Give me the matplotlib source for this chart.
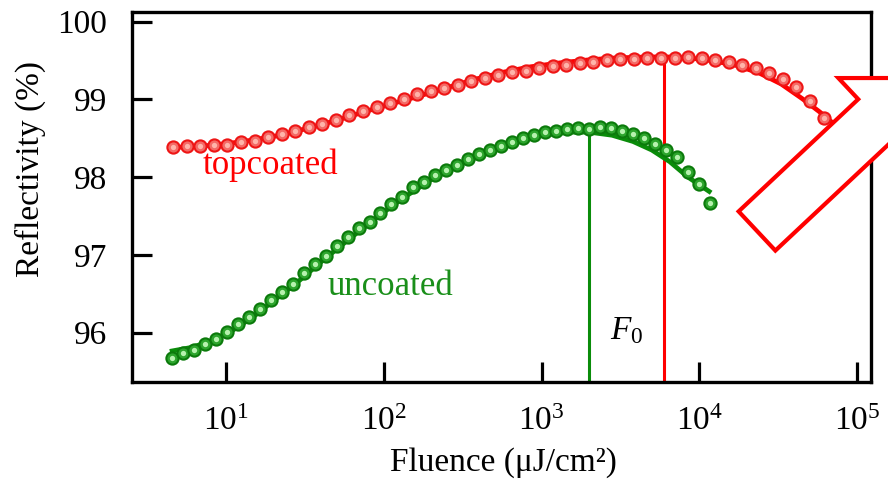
import numpy as np
import matplotlib
matplotlib.use("Agg")
import matplotlib.pyplot as plt
from matplotlib.patches import Polygon

plt.rcParams['font.family'] = ['Liberation Serif', 'DejaVu Serif']
plt.rcParams['mathtext.fontset'] = 'custom'
plt.rcParams['mathtext.rm'] = 'Liberation Serif'
plt.rcParams['mathtext.it'] = 'Liberation Serif:italic'

# ---- measured reflectivity (%) vs. fluence (uJ/cm^2) ----
topcoated_fluence = [4.63, 5.65, 6.88, 8.39, 10.2, 12.5, 15.2, 18.5, 22.5, 27.5,
                     33.5, 40.8, 49.8, 60.6, 73.9, 90.0, 110, 134, 163, 199,
                     242, 295, 359, 438, 533, 650, 792, 965, 1177, 1435,
                     1747, 2130, 2595, 3162, 3855, 4698, 5728, 6982, 8511, 10360,
                     12620, 15380, 18750, 22860, 27860, 33960, 41300, 50350, 61380]
topcoated_refl = [98.39, 98.40, 98.40, 98.41, 98.42, 98.45, 98.47, 98.52, 98.555, 98.60,
                  98.64, 98.68, 98.74, 98.795, 98.855, 98.905, 98.95, 99.01, 99.07, 99.11,
                  99.15, 99.185, 99.235, 99.28, 99.315, 99.35, 99.37, 99.40, 99.43, 99.445,
                  99.465, 99.48, 99.505, 99.515, 99.525, 99.53, 99.535, 99.53, 99.545, 99.535,
                  99.51, 99.48, 99.445, 99.40, 99.345, 99.265, 99.165, 98.98, 98.765]

uncoated_fluence = [4.53, 5.31, 6.24, 7.32, 8.60, 10.09, 11.85, 13.91, 16.33, 19.18,
                    22.51, 26.42, 31.01, 36.41, 42.76, 50.19, 58.92, 69.17, 81.21, 95.35,
                    111.9, 131.4, 154.2, 181.1, 212.6, 249.6, 293.0, 344.0, 403.9, 474.2,
                    556.7, 653.5, 767.2, 900.7, 1057, 1241, 1457, 1711, 2009, 2358,
                    2768, 3250, 3815, 4479, 5258, 6172, 7247, 8507, 9986, 11724]
uncoated_refl = [95.676, 95.740, 95.775, 95.861, 95.925, 96.010, 96.109, 96.203, 96.311, 96.418,
                 96.525, 96.633, 96.770, 96.878, 96.985, 97.117, 97.233, 97.341, 97.426, 97.534,
                 97.654, 97.748, 97.869, 97.941, 98.027, 98.091, 98.156, 98.229, 98.293, 98.349,
                 98.404, 98.456, 98.507, 98.542, 98.577, 98.593, 98.619, 98.628, 98.619, 98.649,
                 98.628, 98.593, 98.551, 98.507, 98.426, 98.349, 98.263, 98.069, 97.907, 97.671]

# ---- model curves ----
topcoated_fit_fluence = [4.4, 7, 10, 15, 22, 33, 50, 75, 110, 165, 250, 380, 570, 850,
                         1300, 2000, 3000, 4500, 6000, 8500, 12000, 17000, 24000,
                         33000, 45000, 58000, 70000, 82000]
topcoated_fit_refl = [98.38, 98.40, 98.43, 98.48, 98.54, 98.63, 98.73, 98.84, 98.94, 99.04,
                      99.15, 99.26, 99.35, 99.42, 99.47, 99.51, 99.535, 99.545, 99.548,
                      99.535, 99.50, 99.44, 99.34, 99.20, 99.01, 98.84, 98.70, 98.52]

uncoated_fit_fluence = [4.4, 6, 8, 11, 15, 20, 28, 40, 60, 90, 130, 200, 300, 450, 700,
                        1000, 1500, 2000, 2800, 3800, 5000, 6500, 8500, 11900]
uncoated_fit_refl = [95.76, 95.81, 95.89, 96.03, 96.21, 96.41, 96.64, 96.91, 97.20, 97.48,
                     97.72, 97.97, 98.17, 98.33, 98.46, 98.54, 98.58, 98.58, 98.54, 98.46,
                     98.35, 98.20, 98.00, 97.80]

# damage-threshold fluences F0 and the curve levels they reach
f0_fluence = {'uncoated': 2000, 'topcoated': 6000}
f0_level = {'uncoated': 98.58, 'topcoated': 99.548}

x_ticks = [10, 100, 1000, 10000, 100000]
y_ticks = [96, 97, 98, 99, 100]

RED = '#ff0000'
GREEN = '#0a8c0a'
FS = 24

W, H = 888, 483
fig = plt.figure(figsize=(W / 100, H / 100), dpi=100)
ax = fig.add_axes([132 / W, 1 - 381.7 / H, (871 - 132) / W, (381.7 - 12) / H])

ax.set_xscale('log')
ax.set_xlim(2.535, 1.227e5)
ax.set_ylim(95.37, 100.125)

# fitted curves
ax.plot(topcoated_fit_fluence, topcoated_fit_refl, color=RED, lw=3.4,
        solid_capstyle='butt', zorder=2)
ax.plot(uncoated_fit_fluence, uncoated_fit_refl, color=GREEN, lw=3.4,
        solid_capstyle='butt', zorder=2)

# threshold markers
ax.plot([f0_fluence['uncoated']] * 2, [95.37, f0_level['uncoated']],
        color=GREEN, lw=2.2, zorder=1.5)
ax.plot([f0_fluence['topcoated']] * 2, [95.37, f0_level['topcoated']],
        color=RED, lw=2.2, zorder=1.5)


def beads(x, y, edge, body, glint):
    ax.plot(x, y, ls='none', marker='o', ms=8.8, mfc=body, mec=edge,
            mew=1.5, zorder=4)
    ax.plot(x, y, ls='none', marker='o', ms=3.8, mfc=glint, mec='none',
            zorder=5)


beads(topcoated_fluence, topcoated_refl, '#ee1515', '#f46a66', '#ffb4aa')
beads(uncoated_fluence, uncoated_refl, '#0b7a0b', '#2da52d', '#b6f2ae')

# series labels
ax.text(19, 98.16, 'topcoated', color=RED, fontsize=25, ha='center', va='center')
ax.text(110, 96.59, 'uncoated', color='#1a8f1a', fontsize=25, ha='center', va='center')
ax.text(3490, 96.03, r'$F_0$', color='black', fontsize=FS, ha='center', va='center')

# axes styling
ax.set_xticks(x_ticks)
ax.set_yticks(y_ticks)
ax.minorticks_off()
ax.tick_params(axis='both', which='major', direction='in', length=14.5, width=2.3,
               labelsize=FS, color='black')
ax.tick_params(axis='x', pad=18, top=False)
ax.tick_params(axis='y', pad=18, right=False)
for s in ax.spines.values():
    s.set_linewidth(2.4)

ax.set_xlabel('Fluence (μJ/cm²)', fontsize=FS)
ax.xaxis.set_label_coords(0.502, -0.176)
ax.set_ylabel('Reflectivity (%)', fontsize=FS)
ax.yaxis.set_label_coords(-0.117, 0.575)

# large hollow arrow pointing out of the frame (pixel geometry, y down)
mid = np.array([757.0, 231.0])
u = np.array([0.73, -0.685])
u /= np.linalg.norm(u)
n = np.array([-0.685, -0.73])
n /= np.linalg.norm(n)
hw, L, barb, head = 26.85, 164.0, 29.0, 59.6
A = mid + hw * n
B = A + L * u
C = B + barb * n
tip = mid + (L + head) * u
D = mid - hw * n
E = D + L * u
F = E - barb * n
pts = np.array([A, B, C, tip, F, E, D])
pts_fig = np.column_stack([pts[:, 0] / W, 1 - pts[:, 1] / H])
arrow = Polygon(pts_fig, closed=True, transform=fig.transFigure, facecolor='white',
                edgecolor=RED, lw=3.0, joinstyle='miter', zorder=10)
fig.patches.append(arrow)

fig.savefig('out.png', dpi=100)
